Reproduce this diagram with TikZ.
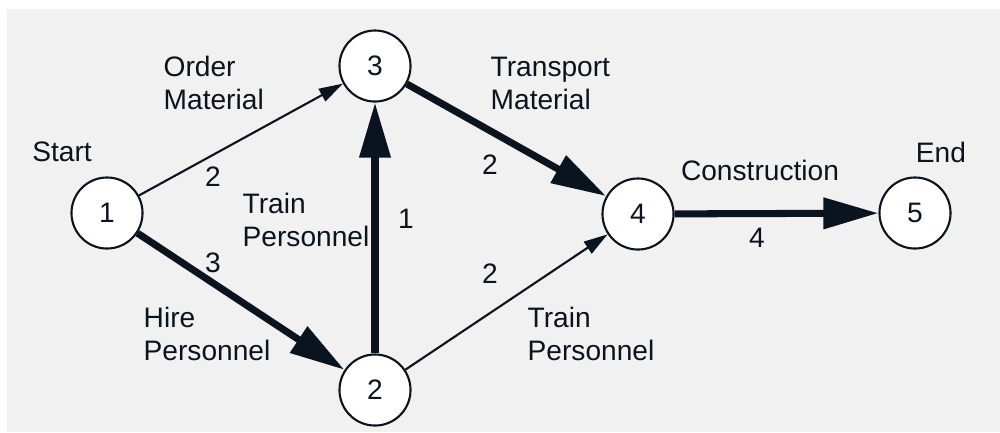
\documentclass[tikz,border=0pt]{standalone}
\usepackage{fontspec}
\setmainfont{Liberation Sans}
\usetikzlibrary{arrows.meta}
\definecolor{ink}{RGB}{10,20,30}
\definecolor{paper}{RGB}{241,241,241}

\begin{document}
\begin{tikzpicture}[x=0.01cm,y=-0.01cm,
  font=\fontsize{8}{9.4}\selectfont,text=ink,
  event/.style={circle,draw=ink,fill=white,line width=0.6pt,minimum size=0.71cm,inner sep=0pt},
  lbl/.style={inner sep=0pt,align=left},
  act/.style={draw=ink,line width=0.6pt,-{Triangle[length=2.4mm,width=1.4mm]}},
  crit/.style={draw=ink,line width=2pt,-{Triangle[length=5.5mm,width=3mm]}}]
  \useasboundingbox (0,0) rectangle (1000,432);
  \fill[paper] (7,9) rectangle (1000,432);

  % events
  \node[event] (n1) at (107,213) {1};
  \node[event] (n2) at (375,390) {2};
  \node[event] (n3) at (375,66) {3};
  \node[event] (n4) at (638,214) {4};
  \node[event] (n5) at (915,213) {5};

  % activities, critical path drawn thick
  \draw[act] (n1) -- (n3);
  \draw[crit] (n1) -- (n2);
  \draw[crit] (n2) -- (n3);
  \draw[crit] (n3) -- (n4);
  \draw[act] (n2) -- (n4);
  \draw[crit] (n4) -- (n5);

  % names and durations
  \node[lbl] (start) at (62,152) {Start};
  \node[lbl] (end) at (941,152) {End};
  \node[lbl,anchor=west] (a13) at (163,83) {Order\\Material};
  \node[lbl] (d13) at (213,177) {2};
  \node[lbl,anchor=west] (a12) at (143,334) {Hire\\Personnel};
  \node[lbl] (d12) at (213,263) {3};
  \node[lbl,anchor=west] (a23) at (242,220) {Train\\Personnel};
  \node[lbl] (d23) at (406,219) {1};
  \node[lbl,anchor=west] (a34) at (490,83) {Transport\\Material};
  \node[lbl] (d34) at (490,165) {2};
  \node[lbl,anchor=west] (a24) at (527,334) {Train\\Personnel};
  \node[lbl] (d24) at (490,274) {2};
  \node[lbl] (a45) at (760,170) {Construction};
  \node[lbl] (d45) at (757,238) {4};
\end{tikzpicture}
\end{document}
